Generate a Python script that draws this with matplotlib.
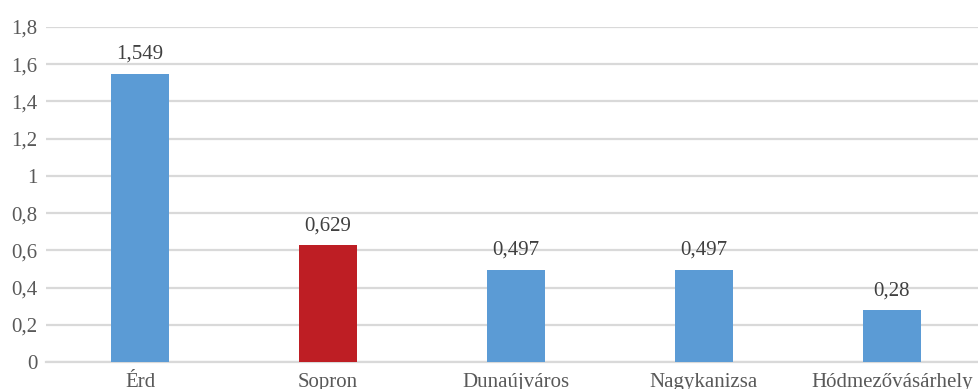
import matplotlib
matplotlib.use("Agg")
import matplotlib.pyplot as plt

cities = ["Érd", "Sopron", "Dunaújváros", "Nagykanizsa", "Hódmezővásárhely"]
values = [1.549, 0.629, 0.497, 0.497, 0.28]
colors = ["#5b9bd5", "#be1e24", "#5b9bd5", "#5b9bd5", "#5b9bd5"]
yticks = [0, 0.2, 0.4, 0.6, 0.8, 1, 1.2, 1.4, 1.6, 1.8]

text_color = "#595959"
grid_color = "#d9d9d9"

plt.rcParams["font.family"] = ["Liberation Serif", "DejaVu Serif"]

W, H = 979, 389
fig = plt.figure(figsize=(W / 100, H / 100), dpi=100)
ax = fig.add_axes([46 / W, 27 / H, 940 / W, 335 / H])

x = list(range(len(cities)))
ax.bar(x, values, width=0.31, color=colors, zorder=3)

for xi, v in zip(x, values):
    label = f"{v:g}".replace(".", ",")
    ax.annotate(label, (xi, v), xytext=(0, 7), textcoords="offset points",
                ha="center", va="bottom", fontsize=15, color="#404040")

ax.set_xlim(-0.5, len(cities) - 0.5)
ax.set_ylim(0, 1.8)
ax.set_yticks(yticks)
ax.set_yticklabels([f"{t:g}".replace(".", ",") for t in yticks])
ax.set_xticks(x)
ax.set_xticklabels(cities)

ax.yaxis.grid(True, color=grid_color, linewidth=1.6, zorder=0)
ax.set_axisbelow(True)
for side in ["top", "right", "left"]:
    ax.spines[side].set_visible(False)
ax.spines["bottom"].set_color(grid_color)
ax.spines["bottom"].set_linewidth(1.6)

ax.tick_params(axis="both", length=0, labelsize=15, colors=text_color)
ax.tick_params(axis="y", pad=6)
ax.tick_params(axis="x", pad=8)

fig.savefig("out.png", dpi=100)
